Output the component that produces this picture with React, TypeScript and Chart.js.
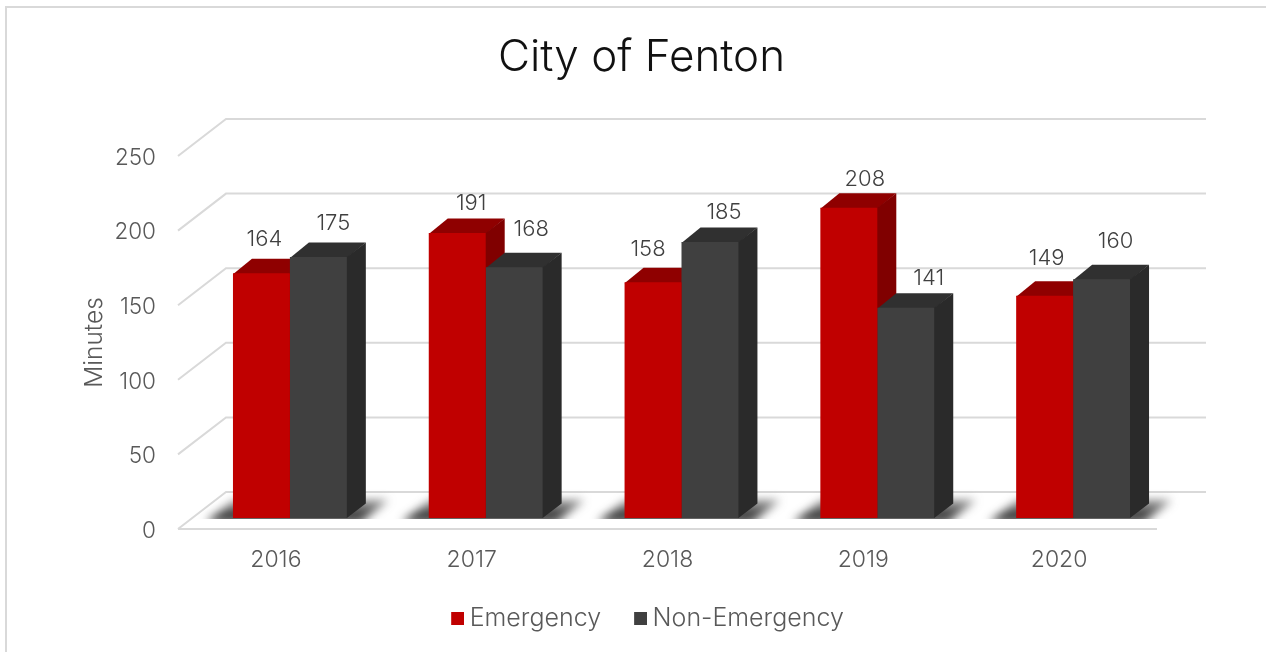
import React, { useEffect, useRef } from "react";
import { Chart, registerables } from "chart.js";

Chart.register(...registerables);

const categories = ["2016", "2017", "2018", "2019", "2020"];
const emergency = [164, 191, 158, 208, 149];
const nonEmergency = [175, 168, 185, 141, 160];
const yTicks = [0, 50, 100, 150, 200, 250];

// label placement relative to the bar's front top centre
const emergencyLabelOffset = [[3, -34], [14, -30], [-5, -33], [16, -28], [2, -37]];
const nonEmergencyLabelOffset = [[15, -34], [17, -38], [14, -30], [23, -29], [14, -38]];

const FONT = "Inter";
const RED = "#c00000";
const DARK = "#404040";
const GRID = "#d9d9d9";
const FACES = [
  { top: "#8f0000", side: "#800000" },
  { top: "#303030", side: "#2a2a2a" },
];
const BAR_SHIFT = { x: 14, y: -11 };
const DEPTH = { x: 19, y: -14.5 };
const WALL = { x: 48, y: -37 };

function swatch(color: string) {
  const c = document.createElement("canvas");
  c.width = 15;
  c.height = 13;
  const g = c.getContext("2d")!;
  g.fillStyle = color;
  g.fillRect(2, 0, 13, 13);
  return c;
}

const look3d = {
  id: "look3d",
  beforeDraw(chart: any) {
    const { ctx, scales, chartArea, width, height } = chart;
    ctx.save();
    // outer frame
    ctx.strokeStyle = GRID;
    ctx.lineWidth = 2;
    ctx.beginPath();
    ctx.moveTo(6, height);
    ctx.lineTo(6, 7);
    ctx.lineTo(width, 7);
    ctx.stroke();
    // walls and floor
    ctx.lineWidth = 2;
    ctx.strokeStyle = GRID;
    const { left, right } = chartArea;
    scales.y.ticks.forEach((t: any) => {
      const y = scales.y.getPixelForValue(t.value);
      ctx.beginPath();
      ctx.moveTo(left, y);
      ctx.lineTo(left + WALL.x, y + WALL.y);
      ctx.lineTo(right + WALL.x + 1, y + WALL.y);
      ctx.stroke();
    });
    const y0 = scales.y.getPixelForValue(0);
    ctx.beginPath();
    ctx.moveTo(left, y0);
    ctx.lineTo(right, y0);
    ctx.stroke();
    ctx.restore();
    // Title and legend are placed independently of the plot
    const t = chart.titleBlock;
    t.left = 0;
    t.right = 1283;
    const l = chart.legend;
    l.left = 0;
    l.right = 1300;
    l.top = 568;
  },
  beforeDatasetsDraw(chart: any) {
    const { ctx, scales } = chart;
    ctx.save();
    ctx.translate(BAR_SHIFT.x, BAR_SHIFT.y);
    const base = scales.y.getPixelForValue(0);
    const m0 = chart.getDatasetMeta(0).data;
    const m1 = chart.getDatasetMeta(1).data;
    // floor shadows
    m0.forEach((b: any, i: number) => {
      const l = b.x - b.width / 2;
      const r = m1[i].x + m1[i].width / 2;
      ctx.save();
      ctx.beginPath();
      ctx.rect(l - 60, base - 30, r - l + 120, 31);
      ctx.clip();
      ctx.filter = "blur(5px)";
      const g = ctx.createLinearGradient(0, base, 0, base - 20);
      g.addColorStop(0, "rgba(30,30,30,0.95)");
      g.addColorStop(1, "rgba(80,80,80,0.5)");
      ctx.fillStyle = g;
      ctx.beginPath();
      ctx.moveTo(l - 27, base + 4);
      ctx.lineTo(l + 2, base - 18);
      ctx.lineTo(r + 42, base - 18);
      ctx.lineTo(r + 14, base + 4);
      ctx.closePath();
      ctx.fill();
      ctx.restore();
    });
    // receding faces (tucked 1px under the front face to avoid seams)
    [m0, m1].forEach((bars: any[], ds: number) => {
      bars.forEach((b: any) => {
        const l = b.x - b.width / 2;
        const r = b.x + b.width / 2;
        ctx.fillStyle = FACES[ds].top;
        ctx.beginPath();
        ctx.moveTo(l, b.y + 1);
        ctx.lineTo(l + DEPTH.x, b.y + DEPTH.y);
        ctx.lineTo(r + DEPTH.x, b.y + DEPTH.y);
        ctx.lineTo(r, b.y + 1);
        ctx.closePath();
        ctx.fill();
        ctx.fillStyle = FACES[ds].side;
        ctx.beginPath();
        ctx.moveTo(r - 1, b.y);
        ctx.lineTo(r, b.y);
        ctx.lineTo(r + DEPTH.x, b.y + DEPTH.y);
        ctx.lineTo(r + DEPTH.x, base + DEPTH.y);
        ctx.lineTo(r, base);
        ctx.lineTo(r - 1, base);
        ctx.closePath();
        ctx.fill();
      });
    });
  },
  afterDatasetsDraw(chart: any) {
    const { ctx } = chart;
    const offsets = [emergencyLabelOffset, nonEmergencyLabelOffset];
    ctx.fillStyle = "#404040";
    ctx.font = `300 22px ${FONT}`;
    ctx.textAlign = "center";
    ctx.textBaseline = "middle";
    [0, 1].forEach((ds) => {
      chart.getDatasetMeta(ds).data.forEach((b: any, i: number) => {
        const v = chart.data.datasets[ds].data[i];
        ctx.fillText(String(v), b.x + offsets[ds][i][0], b.y + offsets[ds][i][1]);
      });
    });
    ctx.restore();
  },
};

export default function App() {
  const ref = useRef<HTMLCanvasElement>(null);
  useEffect(() => {
    const chart = new Chart(ref.current!, {
      type: "bar",
      data: {
        labels: categories,
        datasets: [
          { label: "Emergency", data: emergency, backgroundColor: RED },
          { label: "Non-Emergency", data: nonEmergency, backgroundColor: DARK },
        ],
      },
      plugins: [look3d],
      options: {
        responsive: false,
        animation: false,
        events: [],
        layout: { padding: { left: 0, right: 109, top: 0, bottom: 0 } },
        datasets: { bar: { categoryPercentage: 0.5816, barPercentage: 1, clip: false as any } },
        plugins: {
          tooltip: { enabled: false },
          title: {
            display: true,
            text: "City of Fenton",
            color: "#111111",
            font: { family: FONT, size: 44, weight: "300" },
            padding: { top: 31, bottom: 72.2 },
          },
          legend: {
            position: "bottom",
            labels: {
              usePointStyle: true,
              pointStyleWidth: 1,
              padding: 38,
              color: "#595959",
              font: { family: FONT, size: 25, weight: "300" },
              generateLabels(c: any) {
                const items = Chart.defaults.plugins.legend.labels.generateLabels(c);
                return items.map((it: any, i: number) => ({
                  ...it,
                  pointStyle: swatch(i === 0 ? RED : DARK),
                }));
              },
            },
          },
        },
        scales: {
          x: {
            grid: { display: false, drawTicks: false },
            border: { display: false },
            ticks: { color: "#595959", font: { family: FONT, size: 23, weight: "300" }, padding: 17 },
            afterFit(s: any) {
              s.height = 50;
            },
          },
          y: {
            min: 0,
            max: 250,
            grid: { display: false, drawTicks: false },
            border: { display: false },
            afterBuildTicks(s: any) {
              s.ticks = yTicks.map((value) => ({ value }));
            },
            ticks: { color: "#595959", font: { family: FONT, size: 22.5, weight: "300" }, padding: 22, labelOffset: 2 },
            title: {
              display: true,
              text: "Minutes",
              color: "#595959",
              font: { family: FONT, size: 24.5, weight: "300" },
              padding: { top: 80, bottom: 0 },
            },
            afterFit(s: any) {
              s.width = 178;
            },
          },
        },
      } as any,
    });
    return () => chart.destroy();
  }, []);
  return (
    <div style={{ position: "fixed", left: 0, top: 0, width: 1266, height: 652, background: "#fff" }}>
      <canvas ref={ref} width={1266} height={652} style={{ display: "block", filter: "blur(0.4px)" }} />
    </div>
  );
}
